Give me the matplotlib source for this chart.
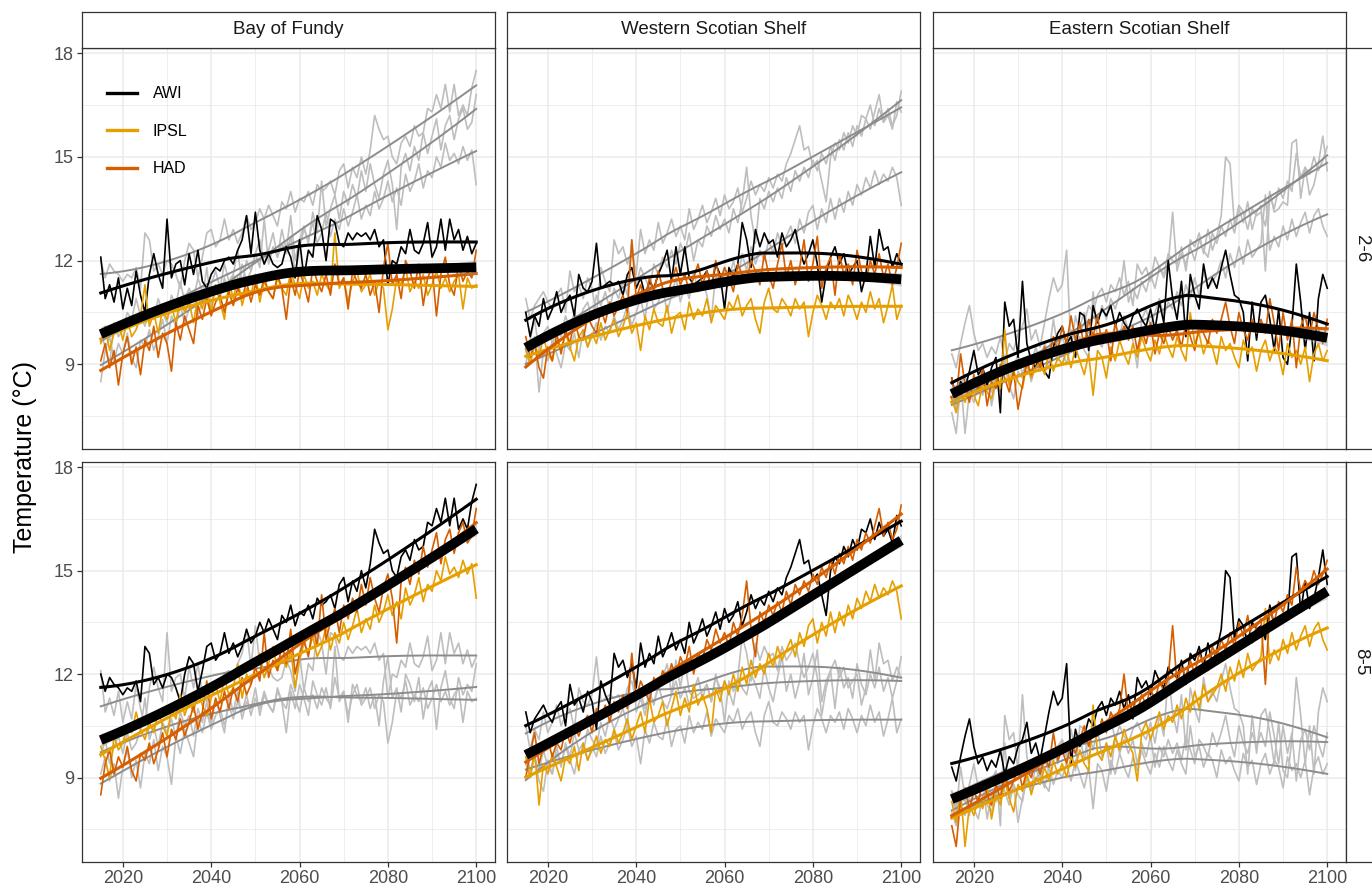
import numpy as np
import matplotlib
matplotlib.use("Agg")
import matplotlib.pyplot as plt
from matplotlib.lines import Line2D

plt.rcParams["font.family"] = ["Liberation Sans", "DejaVu Sans"]

YEARS = np.arange(2015, 2101)
REGIONS = ["Bay of Fundy", "Western Scotian Shelf", "Eastern Scotian Shelf"]
SCENARIOS = ["2-6", "8-5"]
MODELS = ["AWI", "IPSL", "HAD"]
MODEL_COLORS = {"AWI": "#000000", "IPSL": "#E69F00", "HAD": "#D55E00"}

# annual bottom temperature, 2015-2100
bof_26_awi = [12.1, 10.9, 11.3, 10.8, 11.5, 10.6, 11.2, 10.7, 11.7, 11.0,
              10.5, 11.6, 12.2, 11.6, 11.2, 13.2, 11.5, 11.9, 12.0, 11.3,
              12.2, 11.6, 12.3, 11.4, 11.2, 11.6, 11.8, 11.7, 12.0, 12.1,
              11.9, 12.3, 12.6, 13.3, 12.2, 13.4, 12.3, 11.9, 12.2, 11.9,
              11.8, 11.9, 12.4, 12.1, 11.5, 12.6, 11.5, 12.3, 12.1, 13.3,
              12.9, 12.0, 13.2, 13.1, 12.5, 12.4, 12.8, 12.6, 12.8, 12.7,
              12.8, 12.6, 12.9, 12.4, 12.6, 11.3, 12.0, 11.9, 12.4, 12.2,
              12.9, 12.3, 12.2, 12.5, 13.1, 12.1, 12.4, 13.2, 12.3, 13.2,
              12.6, 12.9, 12.3, 12.7, 12.2, 12.5]
bof_26_ipsl = [9.6, 10.1, 9.4, 9.9, 10.2, 9.7, 10.3, 9.8, 10.0, 10.4,
               11.3, 10.1, 10.5, 9.9, 10.6, 10.3, 10.7, 10.2, 10.9, 10.5,
               10.8, 10.2, 11.0, 10.6, 11.2, 10.5, 11.3, 10.8, 10.3, 11.4,
               10.9, 11.5, 10.7, 11.2, 11.0, 11.6, 10.8, 11.4, 11.1, 10.9,
               11.5, 11.2, 11.0, 11.7, 11.3, 10.9, 11.6, 11.2, 11.4, 11.0,
               11.6, 11.3, 11.1, 12.8, 11.2, 11.5, 10.8, 11.4, 11.7, 11.1,
               11.3, 11.6, 11.0, 11.4, 11.2, 10.0, 10.6, 11.5, 11.3, 11.8,
               11.1, 11.4, 11.2, 11.6, 11.0, 11.3, 11.7, 11.2, 11.5, 11.1,
               11.4, 11.6, 10.6, 11.5, 11.2, 11.3]
bof_26_had = [9.1, 9.6, 8.9, 9.4, 8.4, 9.3, 9.8, 9.0, 9.5, 8.7,
              9.7, 9.4, 10.1, 9.2, 9.9, 9.6, 8.8, 10.2, 9.7, 10.4,
              10.0, 9.6, 10.7, 10.3, 10.9, 10.4, 10.8, 11.0, 10.5, 11.1,
              10.7, 11.2, 10.9, 11.4, 10.8, 11.3, 11.0, 11.5, 11.1, 10.9,
              11.6, 11.2, 10.3, 11.5, 11.0, 11.7, 11.3, 10.8, 11.8, 11.4,
              11.1, 11.6, 11.0, 11.9, 11.3, 11.5, 10.6, 11.7, 11.4, 11.2,
              11.6, 11.0, 11.4, 10.5, 11.8, 12.5, 11.3, 11.6, 10.9, 12.0,
              11.7, 11.2, 11.9, 10.7, 11.5, 11.8, 10.4, 11.6, 12.1, 11.3,
              11.0, 11.9, 11.4, 11.7, 11.5, 12.3]
bof_85_awi = [12.0, 11.5, 11.9, 11.7, 11.6, 11.4, 11.6, 11.5, 11.8, 11.2,
              12.8, 12.6, 11.7, 11.9, 11.6, 12.0, 11.9, 11.6, 11.2, 12.0,
              12.5, 12.3, 11.5, 12.1, 12.8, 12.9, 12.4, 12.6, 13.2, 12.6,
              12.9, 12.5, 12.8, 13.3, 12.9, 13.1, 13.5, 13.2, 13.6, 13.3,
              13.0, 13.7, 13.5, 14.0, 13.4, 13.8, 13.7, 14.0, 13.6, 14.2,
              14.0, 14.1, 14.3, 13.9, 14.6, 14.8, 14.1, 14.7, 14.4, 15.0,
              14.5, 15.2, 16.2, 15.8, 15.5, 15.6, 15.0, 14.8, 15.4, 15.6,
              15.3, 15.9, 15.6, 15.7, 16.4, 16.3, 16.8, 16.4, 17.1, 16.3,
              17.1, 16.2, 16.5, 16.2, 17.0, 17.5]
bof_85_ipsl = [9.9, 9.5, 9.0, 10.2, 9.8, 10.0, 10.5, 10.3, 10.9, 10.4,
               10.1, 10.6, 10.3, 10.9, 10.5, 10.2, 11.0, 10.7, 11.4, 10.8,
               11.2, 10.9, 11.5, 11.1, 10.8, 11.3, 11.7, 11.2, 11.9, 11.4,
               11.6, 12.3, 11.3, 12.0, 11.7, 12.2, 12.6, 11.9, 12.3, 12.8,
               12.1, 12.5, 12.2, 12.7, 11.6, 12.4, 12.9, 12.6, 13.1, 12.5,
               12.8, 13.4, 12.7, 13.2, 12.9, 13.5, 13.0, 13.4, 13.9, 13.2,
               13.6, 13.3, 14.0, 13.5, 13.8, 14.3, 13.7, 14.1, 13.6, 14.5,
               14.0, 14.3, 14.8, 14.1, 14.6, 14.4, 15.0, 14.7, 15.4, 14.9,
               15.1, 14.8, 15.3, 14.9, 15.2, 14.2]
bof_85_had = [8.5, 9.4, 9.8, 9.1, 9.6, 9.3, 9.9, 9.2, 8.9, 9.7,
              9.5, 10.0, 9.4, 9.8, 10.3, 9.6, 10.4, 10.1, 10.7, 10.2,
              10.6, 11.1, 10.4, 10.9, 11.8, 10.7, 11.3, 10.9, 11.5, 11.0,
              11.6, 11.2, 11.9, 11.4, 11.7, 12.2, 11.8, 13.2, 11.9, 12.4,
              12.1, 12.9, 12.3, 13.3, 12.0, 12.6, 13.0, 12.5, 13.4, 12.8,
              14.3, 13.0, 13.5, 13.9, 13.2, 14.0, 13.6, 14.2, 13.8, 14.6,
              14.0, 14.8, 14.2, 13.8, 14.5, 14.9, 14.2, 12.9, 14.7, 15.1,
              14.6, 15.3, 14.9, 15.7, 15.1, 15.6, 16.1, 15.2, 15.9, 16.2,
              15.5, 16.1, 16.4, 15.8, 16.0, 16.8]

wss_26_awi = [10.5, 9.8, 10.4, 10.1, 10.9, 10.3, 10.6, 11.1, 10.5, 10.8,
              11.0, 10.4, 11.6, 11.2, 11.1, 11.4, 12.5, 11.2, 11.3, 11.4,
              11.3, 11.4, 11.0, 11.6, 11.8, 11.2, 11.5, 11.0, 11.4, 11.2,
              11.6, 11.9, 12.3, 11.4, 12.4, 11.6, 12.4, 11.5, 11.3, 11.4,
              11.5, 11.7, 11.2, 11.9, 11.6, 10.6, 11.8, 11.5, 11.9, 13.1,
              12.6, 11.8, 12.9, 12.4, 12.8, 12.5, 12.6, 12.1, 12.8, 12.4,
              12.6, 12.9, 12.3, 11.9, 12.2, 12.6, 11.9, 10.8, 11.6, 12.1,
              12.4, 11.9, 12.2, 11.6, 11.8, 12.0, 11.1, 11.6, 12.7, 11.8,
              12.9, 12.3, 12.4, 11.8, 12.2, 11.9]
wss_26_ipsl = [9.4, 9.0, 9.6, 9.2, 9.8, 9.3, 9.1, 9.7, 9.4, 9.9,
               9.5, 9.1, 9.8, 10.0, 9.5, 9.9, 9.6, 10.2, 9.7, 10.0,
               10.3, 9.8, 10.1, 10.5, 9.9, 10.2, 9.4, 10.4, 10.0, 10.6,
               10.2, 10.1, 10.7, 9.9, 10.4, 10.5, 10.0, 10.8, 10.3, 10.6,
               10.4, 10.9, 10.2, 10.7, 10.5, 10.3, 10.8, 10.6, 11.0, 10.4,
               10.7, 10.9, 10.3, 9.9, 10.8, 11.2, 10.6, 10.5, 10.9, 10.7,
               10.4, 10.9, 10.6, 10.8, 9.8, 10.5, 11.0, 10.7, 10.3, 10.8,
               10.6, 10.9, 10.4, 11.0, 10.7, 10.3, 10.8, 10.5, 11.1, 10.6,
               10.9, 10.2, 10.7, 11.3, 10.3, 10.7]
wss_26_had = [9.8, 9.2, 9.6, 8.9, 8.6, 9.5, 9.1, 9.9, 9.3, 10.0,
              9.6, 10.3, 9.8, 9.7, 10.4, 10.1, 9.9, 10.6, 10.2, 10.8,
              10.4, 10.7, 11.0, 10.5, 12.6, 10.9, 11.3, 10.8, 11.5, 11.1,
              11.7, 11.2, 11.0, 11.4, 11.8, 11.3, 11.6, 11.1, 11.5, 11.9,
              11.3, 11.7, 11.2, 12.0, 11.4, 11.8, 11.5, 11.1, 11.9, 11.6,
              11.4, 12.0, 11.7, 11.3, 12.2, 11.6, 11.2, 11.9, 12.5, 11.5,
              12.0, 11.3, 11.8, 12.6, 11.4, 11.9, 12.7, 11.2, 11.8, 12.1,
              11.0, 12.2, 11.6, 11.9, 11.3, 12.3, 11.7, 11.4, 12.0, 11.6,
              12.2, 11.5, 11.9, 11.3, 11.8, 12.5]
wss_85_awi = [10.9, 10.3, 10.7, 10.9, 11.1, 10.8, 10.6, 11.0, 11.2, 10.5,
              11.7, 11.1, 11.3, 10.9, 11.5, 11.2, 10.4, 11.8, 11.4, 11.1,
              12.6, 12.2, 12.4, 11.9, 12.3, 11.6, 12.9, 12.2, 12.6, 12.3,
              13.1, 12.5, 12.8, 13.2, 12.7, 13.0, 12.6, 13.5, 12.9, 13.2,
              13.6, 13.1, 13.4, 13.8, 13.3, 13.9, 13.5, 13.7, 14.1, 13.4,
              13.8, 14.3, 13.9, 14.2, 14.0, 14.4, 14.1, 14.5, 14.3, 14.8,
              15.1, 15.5, 15.9, 15.2, 15.3, 14.7, 14.9, 14.3, 13.7, 15.0,
              15.4, 15.2, 15.7, 15.4, 15.9, 15.6, 16.2, 16.1, 16.5, 15.9,
              16.4, 16.0, 16.2, 15.8, 16.6, 16.3]
wss_85_ipsl = [9.6, 9.0, 9.8, 8.2, 9.4, 9.1, 9.7, 9.3, 8.9, 9.6,
               9.4, 9.9, 9.2, 10.0, 9.5, 9.8, 10.2, 9.7, 10.1, 9.9,
               10.4, 10.0, 10.3, 10.7, 10.1, 10.5, 10.9, 10.3, 11.3, 10.6,
               10.8, 11.2, 10.5, 11.0, 11.5, 10.8, 11.3, 10.9, 11.7, 11.1,
               11.4, 11.0, 10.3, 11.6, 11.2, 11.8, 11.4, 12.0, 11.5, 12.2,
               11.7, 12.4, 11.9, 12.3, 12.0, 12.6, 12.2, 12.8, 12.4, 12.7,
               13.0, 12.5, 13.2, 12.8, 13.4, 13.6, 12.9, 13.5, 13.1, 13.8,
               13.2, 13.8, 13.4, 14.0, 13.6, 14.2, 13.9, 14.4, 14.1, 14.6,
               14.2, 14.5, 14.3, 14.7, 14.4, 13.6]
wss_85_had = [9.0, 9.7, 10.3, 9.4, 9.9, 10.1, 9.6, 10.0, 9.8, 10.4,
              10.0, 10.5, 10.2, 10.6, 10.8, 10.3, 11.0, 10.7, 11.1, 10.6,
              11.2, 10.9, 11.4, 11.0, 12.6, 11.3, 11.8, 11.5, 11.2, 11.9,
              11.6, 12.1, 11.8, 12.3, 11.9, 12.5, 12.2, 12.8, 12.0, 12.6,
              12.4, 13.0, 12.7, 13.3, 12.9, 13.2, 12.8, 13.5, 13.1, 13.7,
              14.7, 13.3, 12.5, 13.8, 13.5, 14.0, 13.7, 14.1, 13.8, 14.4,
              14.0, 14.6, 14.3, 14.7, 14.4, 14.9, 14.6, 15.1, 14.8, 15.3,
              14.9, 15.5, 15.2, 15.7, 15.3, 15.9, 15.6, 16.1, 15.8, 16.3,
              16.8, 16.0, 16.4, 15.9, 16.2, 16.9]

ess_26_awi = [8.6, 8.0, 8.5, 8.3, 8.8, 9.4, 8.7, 8.9, 8.4, 8.9,
              9.2, 7.6, 10.8, 10.1, 10.3, 9.2, 11.4, 9.6, 9.1, 8.9,
              9.3, 8.8, 8.6, 9.5, 9.9, 10.1, 9.6, 9.8, 9.2, 10.5,
              10.4, 9.4, 10.7, 10.2, 10.6, 10.4, 10.7, 10.1, 10.5, 10.2,
              10.0, 10.4, 10.6, 10.3, 10.1, 10.6, 10.0, 10.8, 10.2, 12.0,
              10.9, 10.3, 11.4, 9.8, 11.6, 11.0, 10.6, 11.9, 11.2, 11.5,
              11.2, 11.8, 12.3, 11.6, 11.0, 10.9, 10.5, 9.1, 10.8, 9.7,
              10.8, 11.0, 10.3, 9.4, 10.6, 9.2, 9.0, 10.1, 11.9, 10.8,
              9.4, 10.5, 9.1, 10.9, 11.6, 11.2]
ess_26_ipsl = [8.0, 7.6, 8.2, 7.9, 8.4, 8.1, 7.8, 8.5, 8.2, 8.0,
               8.6, 8.3, 10.0, 8.4, 8.8, 8.5, 8.3, 9.0, 8.6, 8.9,
               9.1, 8.7, 9.3, 8.8, 9.2, 9.0, 9.4, 8.9, 9.5, 9.1,
               8.7, 9.3, 8.1, 9.4, 9.2, 8.6, 9.5, 9.1, 9.7, 9.3,
               9.0, 9.6, 9.2, 9.8, 9.4, 9.1, 9.7, 9.3, 9.9, 9.5,
               9.2, 9.8, 9.4, 9.1, 10.5, 9.6, 9.9, 9.3, 9.7, 9.5,
               9.0, 9.8, 9.4, 9.6, 9.2, 8.9, 9.7, 9.3, 9.5, 8.8,
               9.4, 9.7, 9.1, 9.5, 9.3, 8.7, 9.6, 9.2, 9.4, 9.0,
               9.5, 8.5, 9.3, 9.6, 9.1, 9.4]
ess_26_had = [8.6, 8.0, 9.3, 8.4, 7.9, 8.7, 8.2, 8.9, 7.8, 8.5,
              8.3, 9.0, 8.6, 8.2, 8.8, 7.7, 8.4, 9.1, 8.7, 9.3,
              8.9, 9.5, 9.2, 9.8, 9.4, 10.1, 9.6, 10.4, 9.7, 10.2,
              9.5, 10.3, 9.8, 10.4, 9.6, 10.0, 9.1, 10.2, 9.7, 10.1,
              9.7, 10.1, 9.4, 10.0, 9.6, 10.2, 9.3, 9.9, 9.6, 10.1,
              9.7, 10.0, 9.5, 10.2, 9.8, 9.4, 10.1, 9.9, 9.6, 10.3,
              9.9, 10.3, 10.8, 10.1, 9.6, 10.5, 10.0, 9.7, 10.3, 9.9,
              10.3, 9.9, 10.9, 10.2, 9.4, 10.5, 9.7, 10.3, 8.9, 10.1,
              10.4, 9.8, 10.5, 10.0, 9.6, 10.3]
ess_85_awi = [9.3, 8.9, 9.6, 10.2, 10.7, 9.9, 9.4, 9.6, 9.2, 9.5,
              9.3, 9.8, 9.1, 9.6, 9.4, 9.9, 10.1, 10.6, 9.7, 10.0,
              9.5, 10.2, 10.9, 11.5, 11.1, 11.3, 12.3, 9.4, 10.4, 9.9,
              10.2, 10.7, 10.5, 11.0, 11.2, 10.8, 11.3, 11.1, 11.5, 11.0,
              11.4, 10.7, 11.9, 11.6, 11.8, 11.4, 12.1, 11.8, 11.6, 12.2,
              12.0, 11.9, 12.4, 11.7, 12.6, 12.4, 12.8, 12.2, 12.9, 12.3,
              12.7, 13.3, 15.0, 14.8, 13.0, 13.6, 13.4, 12.9, 13.5, 13.3,
              13.4, 13.0, 14.0, 13.4, 13.5, 13.7, 13.6, 15.4, 15.5, 13.8,
              14.7, 13.9, 14.2, 14.8, 15.6, 14.6]
ess_85_ipsl = [8.3, 7.7, 8.6, 7.0, 8.2, 7.9, 8.4, 8.1, 8.7, 7.8,
               8.5, 8.2, 8.9, 8.4, 8.0, 8.8, 8.6, 9.1, 8.5, 9.0,
               8.8, 9.3, 8.9, 9.5, 9.1, 9.4, 9.0, 9.6, 9.3, 9.8,
               9.4, 9.2, 11.1, 9.7, 9.5, 10.0, 9.6, 10.2, 9.8, 10.4,
               10.0, 9.7, 8.9, 10.3, 10.6, 10.1, 10.5, 10.9, 10.4, 10.8,
               10.6, 11.1, 10.7, 11.3, 10.9, 11.5, 11.0, 11.7, 11.2, 11.4,
               11.6, 12.0, 11.5, 12.2, 11.8, 12.4, 11.9, 12.6, 12.1, 12.3,
               12.5, 13.9, 12.3, 12.7, 12.4, 13.0, 12.6, 13.2, 12.7, 13.1,
               13.4, 12.8, 13.3, 13.5, 13.0, 12.7]
ess_85_had = [7.6, 7.0, 8.4, 8.7, 8.1, 8.6, 8.3, 8.9, 8.5, 8.2,
              8.8, 8.4, 9.1, 8.6, 8.9, 9.3, 8.7, 9.2, 9.0, 9.5,
              9.1, 9.6, 9.3, 10.3, 9.5, 9.8, 9.4, 10.0, 9.7, 10.1,
              10.5, 9.9, 10.4, 10.2, 10.7, 10.3, 10.9, 10.6, 11.0, 12.0,
              10.8, 11.2, 10.9, 11.4, 11.1, 11.6, 11.2, 11.8, 11.5, 11.9,
              13.4, 11.7, 12.2, 11.9, 12.4, 12.0, 12.6, 12.3, 12.1, 12.8,
              12.5, 13.0, 12.7, 13.2, 12.8, 13.5, 13.1, 13.7, 12.9, 13.4,
              13.6, 11.7, 13.9, 13.5, 14.1, 13.8, 14.3, 14.0, 15.1, 14.4,
              14.7, 14.5, 15.0, 14.6, 14.9, 15.3]

SERIES = {
    ("Bay of Fundy", "2-6"): [bof_26_awi, bof_26_ipsl, bof_26_had],
    ("Bay of Fundy", "8-5"): [bof_85_awi, bof_85_ipsl, bof_85_had],
    ("Western Scotian Shelf", "2-6"): [wss_26_awi, wss_26_ipsl, wss_26_had],
    ("Western Scotian Shelf", "8-5"): [wss_85_awi, wss_85_ipsl, wss_85_had],
    ("Eastern Scotian Shelf", "2-6"): [ess_26_awi, ess_26_ipsl, ess_26_had],
    ("Eastern Scotian Shelf", "8-5"): [ess_85_awi, ess_85_ipsl, ess_85_had],
}
for key, vals in SERIES.items():
    for v in vals:
        assert len(v) == len(YEARS), (key, len(v))


def loess(x, y, x_eval, span=0.75):
    """Local quadratic fit with tricube weights (like R's loess defaults)."""
    x = np.asarray(x, float)
    y = np.asarray(y, float)
    n = len(x)
    q = int(np.ceil(span * n))
    fit = np.empty(len(x_eval))
    lnorm = np.empty(len(x_eval))
    for i, x0 in enumerate(x_eval):
        d = np.abs(x - x0)
        h = np.sort(d)[q - 1] * 1.0001
        w = np.clip(1 - (d / h) ** 3, 0, None) ** 3
        dx = (x - x0) / 10.0
        X = np.column_stack([np.ones(n), dx, dx ** 2])
        XtW = X.T * w
        L = np.linalg.solve(XtW @ X, XtW)[0]
        fit[i] = L @ y
        lnorm[i] = np.sqrt(np.sum(L ** 2))
    return fit, lnorm


GRID = "#EBEBEB"
BORDER = "#333333"
TICKCOL = "#4D4D4D"
GREY_RAW = "#BEBEBE"
GREY_FIT = "#8C8C8C"

W, H = 1372, 891
fig = plt.figure(figsize=(W / 100, H / 100), dpi=100)


def px_axes(x0, y0, x1, y1):
    return fig.add_axes([x0 / W, 1 - y1 / H, (x1 - x0) / W, (y1 - y0) / H])


col_x = [(82, 495), (507, 920), (933, 1346)]
row_y = [(48, 449), (462, 862)]

for r, scen in enumerate(SCENARIOS):
    other = SCENARIOS[1 - r]
    for c, region in enumerate(REGIONS):
        ax = px_axes(col_x[c][0], row_y[r][0], col_x[c][1], row_y[r][1])
        ax.set_xlim(2010.75, 2104.25)
        ax.set_ylim(6.55, 18.15)
        ax.set_xticks([2020, 2040, 2060, 2080, 2100])
        ax.set_xticks([2030, 2050, 2070, 2090], minor=True)
        ax.set_yticks([9, 12, 15, 18])
        ax.set_yticks([7.5, 10.5, 13.5, 16.5], minor=True)
        ax.grid(which="major", color=GRID, lw=1.1)
        ax.grid(which="minor", color=GRID, lw=0.6)
        ax.set_axisbelow(True)
        for s in ax.spines.values():
            s.set_color(BORDER)
            s.set_linewidth(0.9)
        ax.tick_params(which="minor", length=0)
        ax.tick_params(which="major", length=3.8, width=0.9, color=BORDER,
                       labelcolor=TICKCOL, labelsize=13, pad=2)
        if c > 0:
            ax.tick_params(which="major", left=False, labelleft=False)
        if r == 0:
            ax.tick_params(which="major", bottom=False, labelbottom=False)

        # other scenario in grey
        for vals in SERIES[(region, other)]:
            ax.plot(YEARS, vals, color=GREY_RAW, lw=1.2, zorder=2)
        for vals in SERIES[(region, other)]:
            fit, _ = loess(YEARS, vals, YEARS)
            ax.plot(YEARS, fit, color=GREY_FIT, lw=1.4, zorder=2.1)

        # this scenario in colour
        for m, vals in zip(MODELS, SERIES[(region, scen)]):
            ax.plot(YEARS, vals, color=MODEL_COLORS[m], lw=1.2, zorder=3)
        for m, vals in zip(MODELS, SERIES[(region, scen)]):
            fit, _ = loess(YEARS, vals, YEARS)
            ax.plot(YEARS, fit, color=MODEL_COLORS[m], lw=2.2, zorder=3.1)

        # ensemble mean smooth with 95% band
        ens_mean = np.mean(SERIES[(region, scen)], axis=0)
        ens, lnorm = loess(YEARS, ens_mean, YEARS)
        sigma = np.sqrt(np.sum((ens_mean - ens) ** 2) / (len(YEARS) - 5))
        band = 1.99 * sigma * lnorm
        ax.fill_between(YEARS, ens - band, ens + band, color="#999999",
                        alpha=0.4, lw=0, zorder=3.5)
        ax.plot(YEARS, ens, color="black", lw=7, zorder=4,
                solid_capstyle="butt")

        if r == 0 and c == 0:
            handles = [Line2D([], [], color=MODEL_COLORS[m], lw=2.4)
                       for m in MODELS]
            ax.legend(handles, MODELS, loc="upper left",
                      bbox_to_anchor=(0.06, 0.905), frameon=False,
                      fontsize=11.5, handlelength=1.88, handletextpad=1.0,
                      labelspacing=1.41, borderpad=0, borderaxespad=0)

# top strips
for c, region in enumerate(REGIONS):
    sax = px_axes(col_x[c][0], 12, col_x[c][1], 48)
    sax.set_xticks([])
    sax.set_yticks([])
    sax.set_facecolor("white")
    for s in sax.spines.values():
        s.set_color(BORDER)
        s.set_linewidth(0.9)
    sax.text(0.5, 0.5, region, ha="center", va="center", fontsize=13.5,
             color="#1A1A1A", transform=sax.transAxes)

# right strips (cut by the figure edge)
for r, scen in enumerate(SCENARIOS):
    sax = px_axes(1346, row_y[r][0], 1382, row_y[r][1])
    sax.set_xticks([])
    sax.set_yticks([])
    sax.set_facecolor("white")
    for s in sax.spines.values():
        s.set_color(BORDER)
        s.set_linewidth(0.9)
    sax.text(0.42, 0.5, scen, ha="center", va="center", rotation=-90,
             fontsize=13.5, color="#1A1A1A", transform=sax.transAxes)

fig.text(25 / W, 1 - 457 / H, "Temperature (\u00b0C)", rotation=90,
         ha="center", va="center", fontsize=18, color="black")

fig.savefig("out.png", dpi=100)
